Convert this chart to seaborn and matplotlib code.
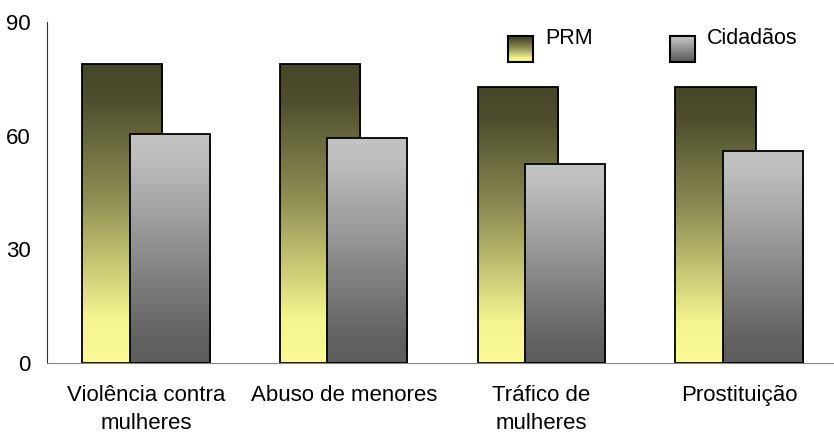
import seaborn as sns
import matplotlib.pyplot as plt
import numpy as np
import pandas as pd
from matplotlib.colors import LinearSegmentedColormap
from matplotlib.patches import Rectangle

categorias = ['Violência contra\nmulheres', 'Abuso de menores', 'Tráfico de\nmulheres', 'Prostituição']
prm = [79, 79, 73, 73]
cidadaos = [60.5, 59.5, 52.5, 56]
series = ['PRM', 'Cidadãos']

df = pd.DataFrame({
    'categoria': categorias * 2,
    'valor': prm + cidadaos,
    'serie': ['PRM'] * 4 + ['Cidadãos'] * 4,
})

# gradientes (de cima para baixo)
cmaps = {
    'PRM': LinearSegmentedColormap.from_list(
        'prm', [(0, '#464628'), (0.12, '#4e4e2e'), (0.45, '#8e8e55'), (0.85, '#f4f490'), (1, '#fafa96')]),
    'Cidadãos': LinearSegmentedColormap.from_list(
        'cid', [(0, '#c3c3c3'), (0.1, '#bebebe'), (0.9, '#616161'), (1, '#5f5f5f')]),
}

sns.set_style('white')
plt.rcParams['font.family'] = ['Liberation Sans', 'DejaVu Sans']
plt.rcParams['text.color'] = 'black'
plt.rcParams['xtick.color'] = 'black'
plt.rcParams['ytick.color'] = 'black'

fig = plt.figure(figsize=(8.34, 4.34), dpi=100)
ax = fig.add_axes([0.0564, 0.1636, 0.9486, 0.7854])

sns.barplot(data=df, x='categoria', y='valor', hue='serie', hue_order=series,
            dodge=True, width=0.48, ax=ax, legend=False)

grad = np.linspace(0, 1, 256).reshape(-1, 1)
bar_w = 0.405
n = len(categorias)
for i, p in enumerate(ax.patches[:2 * n]):
    nome = series[i // n]
    z = 1 if nome == 'PRM' else 3
    cx = p.get_x() + p.get_width() / 2
    p.set_x(cx - bar_w / 2)
    p.set_width(bar_w)
    p.set_facecolor('none')
    p.set_edgecolor('black')
    p.set_linewidth(1.3)
    p.set_zorder(z + 0.5)
    x0, y0 = p.get_x(), p.get_y()
    h = p.get_height()
    im = ax.imshow(grad, cmap=cmaps[nome], aspect='auto', origin='upper',
                   extent=[x0, x0 + bar_w, y0, y0 + h], zorder=z)
    im.set_clip_path(p)

ax.set_xlim(-0.5, n - 0.5)
ax.set_ylim(0, 90)
ax.set_yticks([0, 30, 60, 90])
ax.set_xlabel('')
ax.set_ylabel('')
ax.tick_params(axis='both', length=0, labelsize=16)
ax.tick_params(axis='y', pad=12)
ax.tick_params(axis='x', pad=16)
for lbl in ax.get_xticklabels():
    lbl.set_linespacing(1.4)
for s in ['top', 'right']:
    ax.spines[s].set_visible(False)
ax.spines['left'].set_color('#333333')
ax.spines['bottom'].set_color('#888888')

# legenda com gradiente
leg = [(508, 545, 'PRM'), (670, 707, 'Cidadãos')]
W, H = 834, 434
for x_box, x_txt, nome in leg:
    bx, by, bw, bh = x_box / W, 1 - 62 / H, 25 / W, 26 / H
    lax = fig.add_axes([bx, by, bw, bh])
    lax.imshow(grad, cmap=cmaps[nome], aspect='auto', origin='upper', extent=[0, 1, 0, 1])
    lax.add_patch(Rectangle((0, 0), 1, 1, fill=False, edgecolor='black', lw=1.5,
                            transform=lax.transAxes, clip_on=False))
    lax.set_axis_off()
    fig.text(x_txt / W, 1 - 38 / H, nome, fontsize=15.5, va='center', ha='left')

plt.savefig('out.png', dpi=100)
plt.close()
